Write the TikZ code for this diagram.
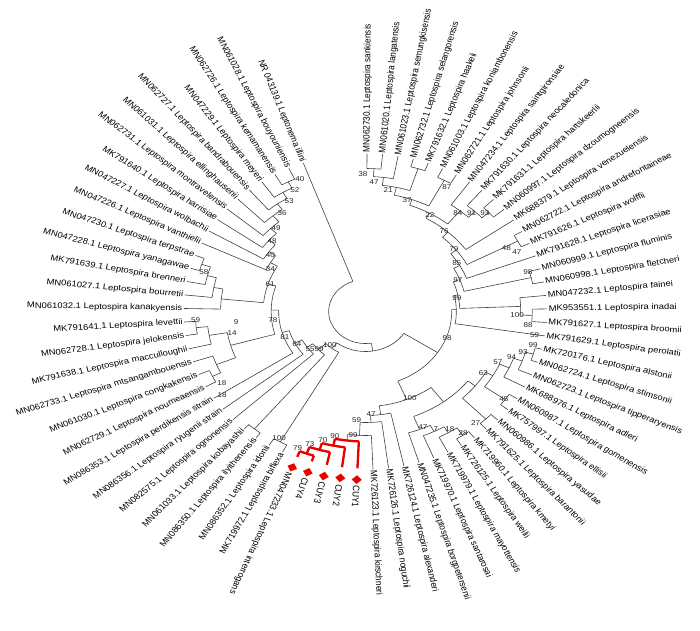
\documentclass[tikz,border=0pt]{standalone}
\usepackage{fontspec}
\setmainfont{Liberation Sans}
\newfontfamily\symfont{DejaVu Sans}

\definecolor{brc}{RGB}{60,60,60}
\definecolor{cuyred}{RGB}{235,0,0}

% branch pieces in polar form (radius, angles)
\newcommand{\brarc}[3]{\draw[br] (#2:#1) arc[start angle=#2, end angle=#3, radius=#1];}
\newcommand{\brad}[3]{\draw[br] (#1:#2) -- (#1:#3);}
\newcommand{\redarc}[3]{\draw[redbr] (#2:#1) arc[start angle=#2, end angle=#3, radius=#1];}
\newcommand{\redrad}[3]{\draw[redbr] (#1:#2) -- (#1:#3);}
% tip labels
\newcommand{\tipR}[3]{\node[lbl, anchor=west, rotate=#2] (#1) at (#2:158) {#3};}
\newcommand{\tipL}[3]{\node[lbl, anchor=east, rotate=#2+180] (#1) at (#2:158) {#3};}
% bootstrap values
\newcommand{\bsv}[4]{\node[bsl] (#1) at (#3:#2) {#4};}
\newcommand{\cuymark}{\hspace{4pt}{\symfont\fontsize{10}{10}\selectfont\color{cuyred}◆}\,}

\begin{document}
\begin{tikzpicture}[
  xscale=1.15, x=0.03cm, y=0.03cm,
  br/.style={draw=brc, line width=0.5pt},
  redbr/.style={draw=cuyred, line width=2pt},
  lbl/.style={font=\fontsize{7}{7}\selectfont, inner xsep=1pt, inner ysep=0.5pt, transform shape},
  bsl/.style={font=\fontsize{6}{6}\selectfont, inner sep=0pt, text=black!85, transform shape}
]
\useasboundingbox (-317.8,-318.5) rectangle (290.9,311.5);

% ---- tip labels, right half
\tipR{sank}{89.5}{MN062730.1 Leptospira sankiensis}
\tipR{lang}{84.58}{MN061020.1 Leptospira langatensis}
\tipR{semu}{79.66}{MN061023.1 Leptospira semungkisensis}
\tipR{sela}{74.74}{MN062732.1 Leptospira selangorensis}
\tipR{haak}{69.82}{MK791632.1 Leptospira haakeii}
\tipR{koni}{64.9}{MN061003.1 Leptospira koniambonensis}
\tipR{john}{59.98}{MN062721.1 Leptospira johnsonii}
\tipR{sain}{55.06}{MN047234.1 Leptospira saintgironsiae}
\tipR{neoc}{50.14}{MK791630.1 Leptospira neocaledonica}
\tipR{hart}{45.22}{MK791631.1 Leptospira hartskeerlii}
\tipR{dzou}{40.3}{MN060997.1 Leptospira dzoumogneensis}
\tipR{vene}{35.38}{MK688379.1 Leptospira venezuelensis}
\tipR{andr}{30.46}{MN062722.1 Leptospira andrefontaineae}
\tipR{wolf}{25.54}{MK791626.1 Leptospira wolffii}
\tipR{lice}{20.62}{MK791628.1 Leptospira licerasiae}
\tipR{flum}{15.7}{MN060999.1 Leptospira fluminis}
\tipR{flet}{10.78}{MN060998.1 Leptospira fletcheri}
\tipR{fain}{5.86}{MN047232.1 Leptospira fainei}
\tipR{inad}{0.94}{MK953551.1 Leptospira inadai}
\tipR{broo}{-3.98}{MK791627.1 Leptospira broomii}
\tipR{pero}{-8.9}{MK791629.1 Leptospira perolatii}
\tipR{alst}{-13.82}{MK720176.1 Leptospira alstonii}
\tipR{stim}{-18.74}{MN062724.1 Leptospira stimsonii}
\tipR{tipp}{-23.66}{MN062723.1 Leptospira tipperaryensis}
\tipR{adle}{-28.58}{MK688976.1 Leptospira adleri}
\tipR{gome}{-33.5}{MN060987.1 Leptospira gomenensis}
\tipR{elli}{-38.42}{MK757997.1 Leptospira ellisii}
\tipR{yasu}{-43.34}{MN060986.1 Leptospira yasudae}
\tipR{bara}{-48.26}{MK791625.1 Leptospira barantonii}
\tipR{kmet}{-53.18}{MK719960.1 Leptospira kmetyi}
\tipR{weil}{-58.1}{MK726125.1 Leptospira weilii}
\tipR{mayo}{-63.02}{MK719979.1 Leptospira mayottensis}
\tipR{sant}{-67.94}{MK719970.1 Leptospira santarosai}
\tipR{borg}{-72.86}{MN047235.1 Leptospira borgpetersenii}
\tipR{alex}{-77.78}{MK726124.1 Leptospira alexanderi}
\tipR{nogu}{-82.7}{MK726126.1 Leptospira noguchii}
\tipR{kirs}{-87.62}{MK726123.1 Leptospira kirschneri}
\tipR{cuy1}{-92.54}{\cuymark CUY1}
\tipR{cuy2}{-97.46}{\cuymark CUY2}
\tipR{cuy3}{-102.38}{\cuymark CUY3}
\tipR{cuy4}{-107.3}{\cuymark CUY4}
\tipR{intr}{-112.22}{\cuymark MN047233.1 Leptospira interrogans}

% ---- tip labels, left half
\tipL{bifl}{242.86}{MK719972.1 Leptospira biflexa}
\tipL{idon}{237.94}{MN086352.1 Leptospira idonii}
\tipL{ilyi}{233.02}{MN086350.1 Leptospira ilyithenensis}
\tipL{koba}{228.1}{MN061033.1 Leptospira kobayashii}
\tipL{ogno}{223.18}{MN082575.1 Leptospira ognonensis}
\tipL{ryug}{218.26}{MN086356.1 Leptospira ryugenii strain}
\tipL{perd}{213.34}{MN086353.1 Leptospira perdikensis strain}
\tipL{noum}{208.42}{MN062729.1 Leptospira noumeaensis}
\tipL{cong}{203.5}{MN061030.1 Leptospira congkakensis}
\tipL{mtsa}{198.58}{MN062733.1 Leptospira mtsangambouensis}
\tipL{macc}{193.66}{MK791638.1 Leptospira macculloughii}
\tipL{jelo}{188.74}{MN062728.1 Leptospira jelokensis}
\tipL{leve}{183.82}{MK791641.1 Leptospira levettii}
\tipL{kana}{178.9}{MN061032.1 Leptospira kanakyensis}
\tipL{bour}{173.98}{MN061027.1 Leptospira bourretii}
\tipL{bren}{169.06}{MK791639.1 Leptospira brenneri}
\tipL{yana}{164.14}{MN047228.1 Leptospira yanagawae}
\tipL{terp}{159.22}{MN047230.1 Leptospira terpstrae}
\tipL{vant}{154.3}{MN047226.1 Leptospira vanthielii}
\tipL{wolb}{149.38}{MN047227.1 Leptospira wolbachii}
\tipL{harr}{144.46}{MK791640.1 Leptospira harrisiae}
\tipL{mont}{139.54}{MN062731.1 Leptospira montravelensis}
\tipL{ellh}{134.62}{MN061031.1 Leptospira ellinghausenii}
\tipL{band}{129.7}{MN062727.1 Leptospira bandrabouensis}
\tipL{meye}{124.78}{MN047229.1 Leptospira meyeri}
\tipL{kema}{119.86}{MN062726.1 Leptospira kemamanensis}
\tipL{bouy}{114.94}{MN061028.1 Leptospira bouyouniensis}
\tipL{illi}{110}{NR 043139.1 Leptonema illini}

% ---- root and backbone
\brarc{32}{110}{279.2}
\draw[br] (110:32) -- (illi);
\brad{279.2}{32}{40}
\brarc{40}{231.64}{326.8}
\brad{231.64}{40}{47}
\brad{326.8}{40}{75}

% ---- saprophyte ladder
\brarc{47}{222.88}{240.4}
\brad{222.88}{47}{56}
\brad{240.4}{47}{150}
\brarc{150}{237.94}{242.86}
\draw[br] (237.94:150) -- (idon);
\draw[br] (242.86:150) -- (bifl);
\brarc{56}{215.2}{230.56}
\brad{215.2}{56}{62}
\brad{230.56}{56}{152}
\brarc{152}{228.1}{233.02}
\draw[br] (228.1:152) -- (koba);
\draw[br] (233.02:152) -- (ilyi);
\brarc{62}{207.2}{223.18}
\brad{207.2}{62}{69}
\draw[br] (223.18:62) -- (ogno);
\brarc{69}{196.17}{218.26}
\brad{196.17}{69}{75.5}
\draw[br] (218.26:69) -- (ryug);
\brarc{75.5}{178.99}{213.34}
\brad{178.99}{75.5}{82}
\draw[br] (213.34:75.5) -- (perd);
\brarc{82}{161.85}{196.12}
\brad{161.85}{82}{89}
\brad{196.12}{82}{122}
\brarc{122}{189.97}{202.27}
\brad{189.97}{122}{138}
\brad{202.27}{122}{140}
\brarc{138}{186.28}{193.66}
\brad{186.28}{138}{148}
\draw[br] (193.66:138) -- (macc);
\brarc{148}{183.82}{188.74}
\draw[br] (183.82:148) -- (leve);
\draw[br] (188.74:148) -- (jelo);
\brarc{140}{198.58}{205.96}
\draw[br] (198.58:140) -- (mtsa);
\brad{205.96}{140}{148}
\brarc{148}{203.5}{208.42}
\draw[br] (203.5:148) -- (cong);
\draw[br] (208.42:148) -- (noum);
\brarc{89}{149.4}{174.29}
\brad{149.4}{89}{96}
\brad{174.29}{89}{126}
\brarc{126}{169.68}{178.9}
\brad{169.68}{126}{134}
\draw[br] (178.9:126) -- (kana);
\brarc{134}{165.37}{173.98}
\brad{165.37}{134}{142}
\draw[br] (173.98:134) -- (bour);
\brarc{142}{161.68}{169.06}
\brad{161.68}{142}{150}
\draw[br] (169.06:142) -- (bren);
\brarc{150}{159.22}{164.14}
\draw[br] (159.22:150) -- (terp);
\draw[br] (164.14:150) -- (yana);
\brarc{96}{144.5}{154.3}
\brad{144.5}{96}{103}
\draw[br] (154.3:96) -- (vant);
\brarc{103}{139.62}{149.38}
\brad{139.62}{103}{110}
\draw[br] (149.38:103) -- (wolb);
\brarc{110}{134.78}{144.46}
\brad{134.78}{110}{117}
\draw[br] (144.46:110) -- (harr);
\brarc{117}{130.01}{139.54}
\brad{130.01}{117}{125}
\draw[br] (139.54:117) -- (mont);
\brarc{125}{125.4}{134.62}
\brad{125.4}{125}{132}
\draw[br] (134.62:125) -- (ellh);
\brarc{132}{121.09}{129.7}
\brad{121.09}{132}{139}
\draw[br] (129.7:132) -- (band);
\brarc{139}{117.4}{124.78}
\brad{117.4}{139}{146}
\draw[br] (124.78:139) -- (meye);
\brarc{146}{114.94}{119.86}
\draw[br] (114.94:146) -- (bouy);
\draw[br] (119.86:146) -- (kema);

% ---- P clade
\brarc{75}{-67.9}{1.41}
\brad{-67.9}{75}{95}
\brad{1.41}{75}{79}
\brarc{79}{-8.9}{11.72}
\draw[br] (-8.9:79) -- (pero);
\brad{11.72}{79}{82}
\brarc{82}{2.17}{21.27}
\brad{2.17}{82}{135}
\brad{21.27}{82}{88}
\brarc{135}{-1.52}{5.86}
\brad{-1.52}{135}{145}
\draw[br] (5.86:135) -- (fain);
\brarc{145}{-3.98}{0.94}
\draw[br] (-3.98:145) -- (broo);
\draw[br] (0.94:145) -- (inad);
\brarc{88}{13.24}{29.3}
\brad{13.24}{88}{148}
\brad{29.3}{88}{94}
\brarc{148}{10.78}{15.7}
\draw[br] (10.78:148) -- (flet);
\draw[br] (15.7:148) -- (flum);
\brarc{94}{20.62}{37.95}
\draw[br] (20.62:94) -- (lice);
\brad{37.95}{94}{100}
\brarc{100}{28}{47.9}
\brad{28}{100}{150}
\brad{47.9}{100}{107}
\brarc{150}{25.54}{30.46}
\draw[br] (25.54:150) -- (wolf);
\draw[br] (30.46:150) -- (andr);
\brarc{107}{35.38}{60.45}
\draw[br] (35.38:107) -- (vene);
\brad{60.45}{107}{113}
\brarc{113}{50.76}{70.13}
\brad{50.76}{113}{130}
\brad{70.13}{113}{119}
\brarc{130}{46.45}{55.06}
\brad{46.45}{130}{138}
\draw[br] (55.06:130) -- (sain);
\brarc{138}{42.76}{50.14}
\brad{42.76}{138}{146}
\draw[br] (50.14:138) -- (neoc);
\brarc{146}{40.3}{45.22}
\draw[br] (40.3:146) -- (dzou);
\draw[br] (45.22:146) -- (hart);
\brarc{119}{62.44}{77.82}
\brad{62.44}{119}{148}
\brad{77.82}{119}{127}
\brarc{148}{59.98}{64.9}
\draw[br] (59.98:148) -- (john);
\draw[br] (64.9:148) -- (koni);
\brarc{127}{72.28}{83.35}
\brad{72.28}{127}{150}
\brad{83.35}{127}{135}
\brarc{150}{69.82}{74.74}
\draw[br] (69.82:150) -- (haak);
\draw[br] (74.74:150) -- (sela);
\brarc{135}{79.66}{87.04}
\draw[br] (79.66:135) -- (semu);
\brad{87.04}{135}{143}
\brarc{143}{84.58}{89.5}
\draw[br] (84.58:143) -- (lang);
\draw[br] (89.5:143) -- (sank);

% pathogens
\brarc{95}{-82.7}{-53.1}
\brad{-82.7}{95}{104}
\brad{-53.1}{95}{113}
\brarc{104}{-87.55}{-77.78}
\draw[br] (-77.78:104) -- (alex);
\brad{-87.55}{104}{111}
\brarc{111}{-92.4}{-82.7}
\draw[br] (-82.7:111) -- (nogu);
\brad{-92.4}{111}{124}
\brarc{124}{-97.15}{-87.62}
\draw[br] (-87.62:124) -- (kirs);
\brad{-97.15}{124}{130}
\redarc{130}{-101.77}{-92.54}
\draw[redbr] (-92.54:130) -- (-92.54:157);
\redrad{-101.77}{130}{137}
\redarc{137}{-106.07}{-97.46}
\draw[redbr] (-97.46:137) -- (-97.46:157);
\redrad{-106.07}{137}{144}
\redarc{144}{-109.76}{-102.38}
\draw[redbr] (-102.38:144) -- (-102.38:157);
\redrad{-109.76}{144}{151}
\redarc{151}{-112.22}{-107.3}
\draw[redbr] (-107.3:151) -- (-107.3:157);
\draw[redbr] (-112.22:151) -- (-112.22:157);
\brarc{113}{-68.25}{-37.95}
\brad{-68.25}{113}{127}
\brad{-37.95}{113}{121}
\brarc{127}{-72.86}{-63.64}
\draw[br] (-72.86:127) -- (borg);
\brad{-63.64}{127}{134}
\brarc{134}{-67.94}{-59.33}
\draw[br] (-67.94:134) -- (sant);
\brad{-59.33}{134}{141}
\brarc{141}{-63.02}{-55.64}
\draw[br] (-63.02:141) -- (mayo);
\brad{-55.64}{141}{150}
\brarc{150}{-58.1}{-53.18}
\draw[br] (-58.1:150) -- (weil);
\draw[br] (-53.18:150) -- (kmet);
\brarc{121}{-45.8}{-30.1}
\brad{-45.8}{121}{150}
\brad{-30.1}{121}{128}
\brarc{150}{-48.26}{-43.34}
\draw[br] (-48.26:150) -- (bara);
\draw[br] (-43.34:150) -- (yasu);
\brarc{128}{-35.96}{-24.28}
\brad{-35.96}{128}{150}
\brad{-24.28}{128}{137}
\brarc{150}{-38.42}{-33.5}
\draw[br] (-38.42:150) -- (elli);
\draw[br] (-33.5:150) -- (gome);
\brarc{137}{-28.58}{-19.97}
\draw[br] (-28.58:137) -- (adle);
\brad{-19.97}{137}{145}
\brarc{145}{-23.66}{-16.28}
\draw[br] (-23.66:145) -- (tipp);
\brad{-16.28}{145}{152}
\brarc{152}{-18.74}{-13.82}
\draw[br] (-18.74:152) -- (stim);
\draw[br] (-13.82:152) -- (alst);

% ---- bootstrap values
\bsv{s1}{144}{113.3}{40}
\bsv{s2}{136}{116.8}{52}
\bsv{s3}{129}{121}{53}
\bsv{s4}{122}{126.4}{36}
\bsv{s5}{114}{133}{49}
\bsv{s6}{107.6}{139}{48}
\bsv{s7}{100}{145.8}{40}
\bsv{s8}{93}{152.9}{34}
\bsv{s9}{87.4}{161.7}{61}
\bsv{s10}{80.9}{186}{78}
\bsv{s11}{74.5}{200}{81}
\bsv{s12}{67.9}{208.6}{64}
\bsv{s13}{61}{217.8}{55}
\bsv{s14}{55}{222.9}{99}
\bsv{s15}{45.6}{227.3}{100}
\bsv{s16}{148}{183.3}{59}
\bsv{s17}{113}{185.3}{9}
\bsv{s18}{118}{190.5}{14}
\bsv{s19}{143.8}{209.8}{18}
\bsv{s20}{150}{213.8}{18}
\bsv{s21}{145.9}{164.3}{58}
\bsv{s22}{147}{-120.7}{100}
\bsv{c1}{148.5}{-113.4}{79}
\bsv{c2}{141.5}{-110}{73}
\bsv{c3}{134}{-106}{70}
\bsv{c4}{127.5}{-102}{90}
\bsv{c5}{124}{-95}{99}
\bsv{c6}{108.8}{-94}{59}
\bsv{c7}{102.6}{-87.3}{47}
\bsv{p1}{94.8}{-65.9}{100}
\bsv{p2}{125.9}{-66.6}{47}
\bsv{p3}{132.5}{-62.5}{7}
\bsv{p4}{138.6}{-58}{18}
\bsv{p5}{148}{-55}{28}
\bsv{p6}{147}{-49.3}{27}
\bsv{p7}{148.8}{-36}{45}
\bsv{p8}{119.6}{-31}{63}
\bsv{p9}{125.8}{-23.7}{57}
\bsv{p10}{135}{-19.7}{94}
\bsv{p11}{143}{-16.5}{93}
\bsv{p12}{149.5}{-12.9}{99}
\bsv{p13}{149}{-9}{59}
\bsv{p14}{142}{-5.5}{88}
\bsv{p15}{132}{-1.5}{100}
\bsv{p16}{75.7}{-20.5}{98}
\bsv{t1}{80.7}{9.6}{99}
\bsv{t2}{86.4}{21.4}{97}
\bsv{t3}{93}{31.4}{85}
\bsv{t4}{99}{39}{79}
\bsv{t5}{105.6}{49.7}{76}
\bsv{t6}{111.6}{59.9}{22}
\bsv{t7}{117}{72}{37}
\bsv{t8}{123}{80.8}{21}
\bsv{t9}{129.7}{86.7}{47}
\bsv{t10}{137.5}{90.9}{38}
\bsv{t11}{143}{60.3}{87}
\bsv{t12}{127}{50.8}{84}
\bsv{t13}{135}{46.8}{91}
\bsv{t14}{143}{43.4}{93}
\bsv{t15}{138}{27.3}{48}
\bsv{t16}{144.5}{24.3}{47}
\bsv{t17}{146.7}{15.6}{98}
\end{tikzpicture}
\end{document}
